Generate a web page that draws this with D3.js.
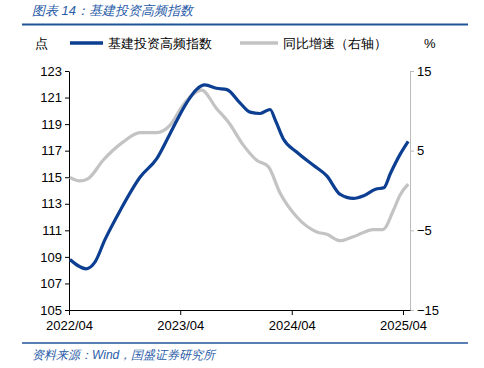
<!DOCTYPE html>
<html>
<head>
<meta charset="utf-8">
<script src="https://cdn.jsdelivr.net/npm/d3@7"></script>
<style>
  body { margin: 0; background: #fff; }
  svg { display: block; font-family: "Liberation Sans", Arial, sans-serif; }
</style>
</head>
<body>
<div class="chart"></div>
<script>
// 基建投资高频指数 (left axis, 点)
var indexDates = ["2022-04-04","2022-05-28","2022-06-25","2022-07-28","2022-09-16","2022-11-20",
  "2023-01-14","2023-02-27","2023-04-22","2023-05-24","2023-06-21","2023-07-29","2023-09-01",
  "2023-10-14","2023-11-16","2023-12-19","2024-01-21","2024-02-07","2024-03-04","2024-04-17",
  "2024-06-11","2024-07-25","2024-09-07","2024-10-20","2024-11-23","2025-01-01","2025-01-28",
  "2025-02-19","2025-03-22","2025-04-18"];
var indexValues = [108.8,108.1,108.6,110.3,112.5,115.0,
  116.4,118.3,120.6,121.6,121.95,121.7,121.6,
  120.6,119.9,119.8,120.1,119.3,117.9,116.9,
  115.9,115.1,113.7,113.4,113.6,114.1,114.2,
  115.3,116.7,117.7];

// 同比增速 (right axis, %)
var yoyDates = ["2022-04-04","2022-05-06","2022-06-03","2022-07-22","2022-09-26","2022-11-20",
  "2023-01-14","2023-02-27","2023-04-10","2023-06-10","2023-07-29","2023-09-06","2023-10-25",
  "2023-12-08","2024-01-15","2024-02-23","2024-04-17","2024-06-22","2024-07-25","2024-09-07",
  "2024-10-20","2024-12-25","2025-01-25","2025-03-01","2025-03-22","2025-04-18"];
var yoyValues = [1.65,1.2,1.5,3.8,6.1,7.26,
  7.26,8.2,10.7,12.6,10.3,8.6,5.7,
  3.8,3.0,-0.35,-3.3,-5.2,-5.5,-6.3,
  -5.8,-4.9,-4.9,-2.45,-0.6,0.8];

var leftTicks = [105,107,109,111,113,115,117,119,121,123];
var rightTicks = [-15,-5,5,15];
var xTickLabels = ["2022/04","2023/04","2024/04","2025/04"];

var title = "图表 14：基建投资高频指数";
var source = "资料来源：Wind，国盛证券研究所";
var legendNames = ["基建投资高频指数", "同比增速（右轴）"];

var parse = d3.timeParse("%Y-%m-%d");
var blue = "#0c3e91", gray = "#c3c3c3", titleBlue = "#2a5ca8";

var svg = d3.select(".chart").append("svg").attr("width", 484).attr("height", 368);

var x = d3.scaleTime()
    .domain([parse("2022-04-01"), parse("2025-04-24")])
    .range([69, 410]);
var yL = d3.scaleLinear().domain([105, 123]).range([310, 71]);
var yR = d3.scaleLinear().domain([-15, 15]).range([310, 71]);

// title + rules
svg.append("text").attr("x", 32).attr("y", 15)
    .attr("fill", titleBlue).style("font-style", "italic").style("font-size", "13px")
    .text(title);
svg.append("line").attr("x1", 22).attr("x2", 468).attr("y1", 24.5).attr("y2", 24.5)
    .attr("stroke", "#1f5597").attr("stroke-width", 2);
svg.append("line").attr("x1", 22).attr("x2", 468).attr("y1", 343).attr("y2", 343)
    .attr("stroke", "#1f5597").attr("stroke-width", 1.5);
svg.append("text").attr("x", 32).attr("y", 359)
    .attr("fill", titleBlue).style("font-style", "italic").style("font-size", "12px")
    .text(source);

// legend
svg.append("text").attr("x", 35).attr("y", 48).style("font-size", "13px").text("点");
svg.append("text").attr("x", 424).attr("y", 48).style("font-size", "13px").text("%");
svg.append("line").attr("x1", 70).attr("x2", 103).attr("y1", 43).attr("y2", 43)
    .attr("stroke", blue).attr("stroke-width", 3.5);
svg.append("text").attr("x", 108).attr("y", 48).style("font-size", "13px").text(legendNames[0]);
svg.append("line").attr("x1", 240).attr("x2", 278).attr("y1", 43).attr("y2", 43)
    .attr("stroke", gray).attr("stroke-width", 3.5);
svg.append("text").attr("x", 283).attr("y", 48).style("font-size", "13px").text(legendNames[1]);

// axes
var gL = svg.append("g").attr("transform", "translate(69,0)")
    .call(d3.axisLeft(yL).tickValues(leftTicks).tickSize(4).tickPadding(3).tickSizeOuter(0));
gL.selectAll("text").style("font-size", "13px").attr("fill", "#000");
gL.select(".domain").attr("stroke", "#000");

var gR = svg.append("g").attr("transform", "translate(410,0)")
    .call(d3.axisRight(yR).tickValues(rightTicks).tickSize(4).tickPadding(3).tickSizeOuter(0));
gR.selectAll("text").style("font-size", "13px").attr("fill", "#000");
gR.select(".domain").attr("stroke", "#bcbcbc");
gR.selectAll(".tick line").attr("stroke", "#bcbcbc");

var xTicks = xTickLabels.map(function(s) { return d3.timeParse("%Y/%m")(s); });
var gX = svg.append("g").attr("transform", "translate(0,310)")
    .call(d3.axisBottom(x).tickValues(xTicks).tickFormat(d3.timeFormat("%Y/%m"))
      .tickSize(5).tickPadding(6).tickSizeOuter(0));
gX.selectAll("text").style("font-size", "13px").attr("fill", "#000");
gX.select(".domain").attr("stroke", "#000");

// lines
var yoyData = yoyDates.map(function(d, i) { return {date: parse(d), value: yoyValues[i]}; });
var indexData = indexDates.map(function(d, i) { return {date: parse(d), value: indexValues[i]}; });

svg.append("path").datum(yoyData)
    .attr("fill", "none").attr("stroke", gray).attr("stroke-width", 3.2)
    .attr("d", d3.line().curve(d3.curveMonotoneX)
      .x(function(d) { return x(d.date); }).y(function(d) { return yR(d.value); }));

svg.append("path").datum(indexData)
    .attr("fill", "none").attr("stroke", blue).attr("stroke-width", 3.2)
    .attr("d", d3.line().curve(d3.curveMonotoneX)
      .x(function(d) { return x(d.date); }).y(function(d) { return yL(d.value); }));
</script>
</body>
</html>
